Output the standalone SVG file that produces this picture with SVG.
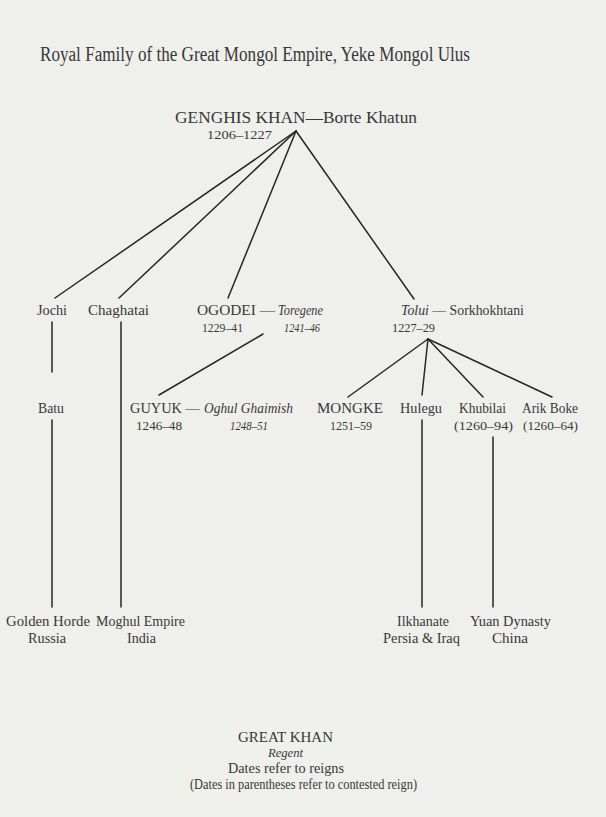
<svg xmlns="http://www.w3.org/2000/svg" width="606" height="817" viewBox="0 0 606 817">
<style>
text{font-family:"Liberation Serif","DejaVu Serif",serif;fill:#383838}
.t{font-size:20px}
.g{font-size:17px}
.n{font-size:15.5px}
.d{font-size:12.5px}
.lg{font-size:14px}
.i{font-style:italic}
.c line{stroke:#262626;stroke-width:1.5;stroke-linecap:round}
</style>
<rect width="606" height="817" fill="#efefec"/>
<text class="t" x="40" y="61" textLength="430" lengthAdjust="spacingAndGlyphs">Royal Family of the Great Mongol Empire, Yeke Mongol Ulus</text>
<g class="c" id="connectors">
<line x1="296" y1="131" x2="55" y2="298"/>
<line x1="296" y1="131" x2="119" y2="298"/>
<line x1="296" y1="131" x2="228" y2="298"/>
<line x1="296" y1="131" x2="414" y2="299"/>
<line x1="263" y1="334" x2="159" y2="395"/>
<line x1="428" y1="339" x2="348" y2="397"/>
<line x1="428" y1="339" x2="422" y2="395"/>
<line x1="428" y1="339" x2="483" y2="397"/>
<line x1="428" y1="339" x2="552" y2="397"/>
<line x1="52" y1="322" x2="52" y2="372"/>
<line x1="52" y1="420" x2="52" y2="607"/>
<line x1="121" y1="322" x2="121" y2="607"/>
<line x1="422" y1="420" x2="422" y2="607"/>
<line x1="493" y1="437" x2="493" y2="607"/>
</g>
<g id="genghis">
<text class="g" x="175" y="123" textLength="242" lengthAdjust="spacingAndGlyphs">GENGHIS KHAN—Borte Khatun</text>
<text class="d" x="207" y="139" textLength="65" lengthAdjust="spacingAndGlyphs">1206–1227</text>
</g>
<g id="jochi"><text class="n" x="37" y="315" textLength="30" lengthAdjust="spacingAndGlyphs">Jochi</text></g>
<g id="chaghatai"><text class="n" x="88" y="315" textLength="61" lengthAdjust="spacingAndGlyphs">Chaghatai</text></g>
<g id="ogodei">
<text class="n" x="197" y="315" textLength="78" lengthAdjust="spacingAndGlyphs">OGODEI —</text>
<text class="n i" x="278" y="315" style="font-size:14px" textLength="45" lengthAdjust="spacingAndGlyphs">Toregene</text>
<text class="d" x="202" y="332" textLength="41" lengthAdjust="spacingAndGlyphs">1229–41</text>
<text class="d i" x="284" y="332" textLength="36" lengthAdjust="spacingAndGlyphs">1241–46</text>
</g>
<g id="tolui">
<text class="n" x="401" y="315" style="font-size:13.8px"><tspan class="i">Tolui</tspan> — Sorkhokhtani</text>
<text class="d" x="392" y="332" textLength="43" lengthAdjust="spacingAndGlyphs">1227–29</text>
</g>
<g id="batu"><text class="n" x="38" y="413" textLength="26" lengthAdjust="spacingAndGlyphs">Batu</text></g>
<g id="guyuk">
<text class="n" x="130" y="413" textLength="70" lengthAdjust="spacingAndGlyphs">GUYUK —</text>
<text class="n i" x="204" y="413" textLength="89" lengthAdjust="spacingAndGlyphs">Oghul Ghaimish</text>
<text class="d" x="136" y="430" textLength="46" lengthAdjust="spacingAndGlyphs">1246–48</text>
<text class="d i" x="230" y="430" textLength="38" lengthAdjust="spacingAndGlyphs">1248–51</text>
</g>
<g id="mongke">
<text class="n" x="317" y="413" textLength="66" lengthAdjust="spacingAndGlyphs">MONGKE</text>
<text class="d" x="330" y="430" textLength="42" lengthAdjust="spacingAndGlyphs">1251–59</text>
</g>
<g id="hulegu"><text class="n" x="400" y="413" textLength="42" lengthAdjust="spacingAndGlyphs">Hulegu</text></g>
<g id="khubilai">
<text class="n" x="459" y="413" textLength="47" lengthAdjust="spacingAndGlyphs">Khubilai</text>
<text class="d" x="454" y="430" textLength="59" lengthAdjust="spacingAndGlyphs">(1260–94)</text>
</g>
<g id="arikboke">
<text class="n" x="522" y="413" textLength="56" lengthAdjust="spacingAndGlyphs">Arik Boke</text>
<text class="d" x="523" y="430" textLength="55" lengthAdjust="spacingAndGlyphs">(1260–64)</text>
</g>
<g id="goldenhorde">
<text class="n" x="6" y="626" textLength="84" lengthAdjust="spacingAndGlyphs">Golden Horde</text>
<text class="n" x="28" y="643" textLength="38" lengthAdjust="spacingAndGlyphs">Russia</text>
</g>
<g id="moghul">
<text class="n" x="96" y="626" textLength="89" lengthAdjust="spacingAndGlyphs">Moghul Empire</text>
<text class="n" x="127" y="643" textLength="29" lengthAdjust="spacingAndGlyphs">India</text>
</g>
<g id="ilkhanate">
<text class="n" x="397" y="626" textLength="52" lengthAdjust="spacingAndGlyphs">Ilkhanate</text>
<text class="n" x="383" y="643" textLength="77" lengthAdjust="spacingAndGlyphs">Persia &amp; Iraq</text>
</g>
<g id="yuan">
<text class="n" x="470" y="626" textLength="81" lengthAdjust="spacingAndGlyphs">Yuan Dynasty</text>
<text class="n" x="492" y="643" textLength="36" lengthAdjust="spacingAndGlyphs">China</text>
</g>
<g id="legend">
<text class="lg" x="238" y="742" textLength="95" lengthAdjust="spacingAndGlyphs">GREAT KHAN</text>
<text class="lg i" x="268" y="757" style="font-size:13px" textLength="35" lengthAdjust="spacingAndGlyphs">Regent</text>
<text class="lg" x="228" y="773" textLength="116" lengthAdjust="spacingAndGlyphs">Dates refer to reigns</text>
<text class="lg" x="190" y="789" textLength="227" lengthAdjust="spacingAndGlyphs">(Dates in parentheses refer to contested reign)</text>
</g>
</svg>
